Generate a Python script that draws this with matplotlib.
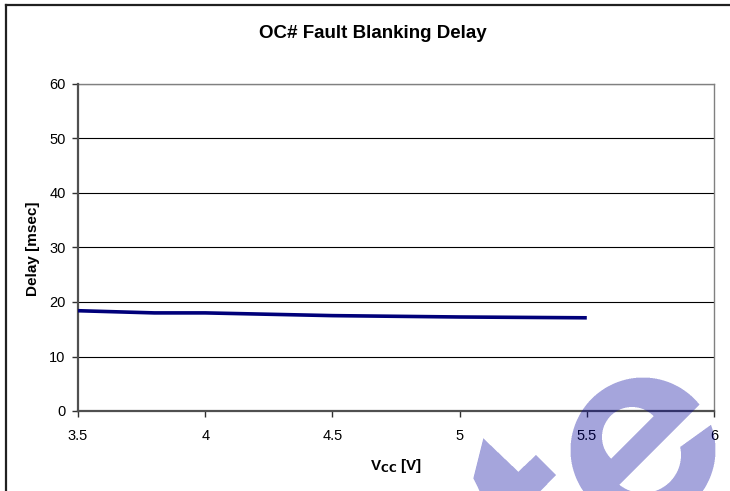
import numpy as np
import matplotlib
matplotlib.use("Agg")
import matplotlib.pyplot as plt
from matplotlib.path import Path
from matplotlib.lines import Line2D

plt.rcParams['font.family'] = ['Liberation Sans', 'DejaVu Sans']

# ---- data ----
vcc = [3.5, 3.8, 4.0, 4.5, 5.0, 5.5]
delay_ms = [18.4, 18.0, 18.0, 17.5, 17.25, 17.1]
x_ticks = [3.5, 4, 4.5, 5, 5.5, 6]
x_tick_labels = ["3.5", "4", "4.5", "5", "5.5", "6"]
y_ticks = [0, 10, 20, 30, 40, 50, 60]
title = "OC# Fault Blanking Delay"
xlabel = r"V$_{\mathbf{CC}}$ [V]"
ylabel = "Delay [msec]"

W, H = 730, 491
fig = plt.figure(figsize=(W / 100, H / 100), dpi=100)
fig.patch.set_facecolor("white")

ax = fig.add_axes([78 / W, 1 - 411 / H, (714 - 78) / W, (411 - 84) / H])
ax.set_xlim(3.5, 6)
ax.set_ylim(0, 60)
ax.set_xticks(x_ticks)
ax.set_xticklabels(x_tick_labels)
ax.set_yticks(y_ticks)
ax.yaxis.grid(True, color="black", linewidth=0.8)
ax.set_axisbelow(True)
for s in ["top", "right"]:
    ax.spines[s].set_color("#808080")
    ax.spines[s].set_linewidth(1.0)
for s in ["left", "bottom"]:
    ax.spines[s].set_color("#505050")
    ax.spines[s].set_linewidth(1.6)
    ax.spines[s].set_zorder(3)
ax.tick_params(axis="both", direction="out", length=4, width=1.0, color="#303030",
               labelsize=10.5)
ax.tick_params(axis="y", pad=5)
ax.tick_params(axis="x", pad=9)

ax.plot(vcc, delay_ms, color="#00007A", linewidth=2.6, solid_capstyle="butt", zorder=4)

ax.set_xlabel(xlabel, fontsize=11, fontweight="bold")
ax.set_ylabel(ylabel, fontsize=11, fontweight="bold")
ax.xaxis.set_label_coords((396 - 78) / 636, -(466 - 411) / 327)
ax.xaxis.label.set_va("center")
ax.yaxis.set_label_coords(-(78 - 33) / 636, (411 - 249) / 327)
ax.yaxis.label.set_va("center")
fig.text(373 / W, 1 - 33 / H, title, ha="center", va="center",
         fontsize=13.5, fontweight="bold")

# outer chart border (left and top visible)
fig.add_artist(Line2D([6 / W, 6 / W], [0, 1 - 5 / H], transform=fig.transFigure,
                      color="#202020", linewidth=1.6))
fig.add_artist(Line2D([6 / W, 1.0], [1 - 5 / H, 1 - 5 / H], transform=fig.transFigure,
                      color="#202020", linewidth=1.6))

# ---- watermark (semi-transparent logo) ----
ss = 3
yy, xx = np.mgrid[0:H * ss, 0:W * ss]
px = (xx + 0.5) / ss
py = (yy + 0.5) / ss

cx, cy, r_out = 643.0, 450.0, 72.5
outer = (px - cx) ** 2 + (py - cy) ** 2 <= r_out ** 2
s = px + py
hole = ((px - 632) ** 2 + (py - 437) ** 2 <= 30 ** 2) & (s < 1070)
lower_in = ((px - 643) ** 2 + (py - 455) ** 2 <= 38 ** 2) & (s > 1104)
ax1, ay1, ax2, ay2 = 708.3, 426.7, 678.3, 448.3
slope = (ay2 - ay1) / (ax2 - ax1)
lobe_y = ay1 + (px - ax1) * slope
slot = (s > 1104) & (py < lobe_y) & (px > 665)
e_mask = outer & ~hole & ~lower_in & ~slot

check_poly = Path([(483.3, 438.3), (518.3, 471.7), (536, 455), (556, 475),
                   (530, 502), (485, 502), (473.3, 478.3), (483.3, 438.3)])
pts = np.column_stack([px.ravel(), py.ravel()])
check_mask = check_poly.contains_points(pts).reshape(px.shape)

mask = (e_mask | check_mask).astype(float)
mask = mask.reshape(H, ss, W, ss).mean(axis=(1, 3))
rgba = np.zeros((H, W, 4))
rgba[..., 2] = 156 / 255
rgba[..., 3] = 0.355 * mask
fig.figimage(rgba, xo=0, yo=0, origin="upper", zorder=10)

fig.savefig("out.png", dpi=100)
